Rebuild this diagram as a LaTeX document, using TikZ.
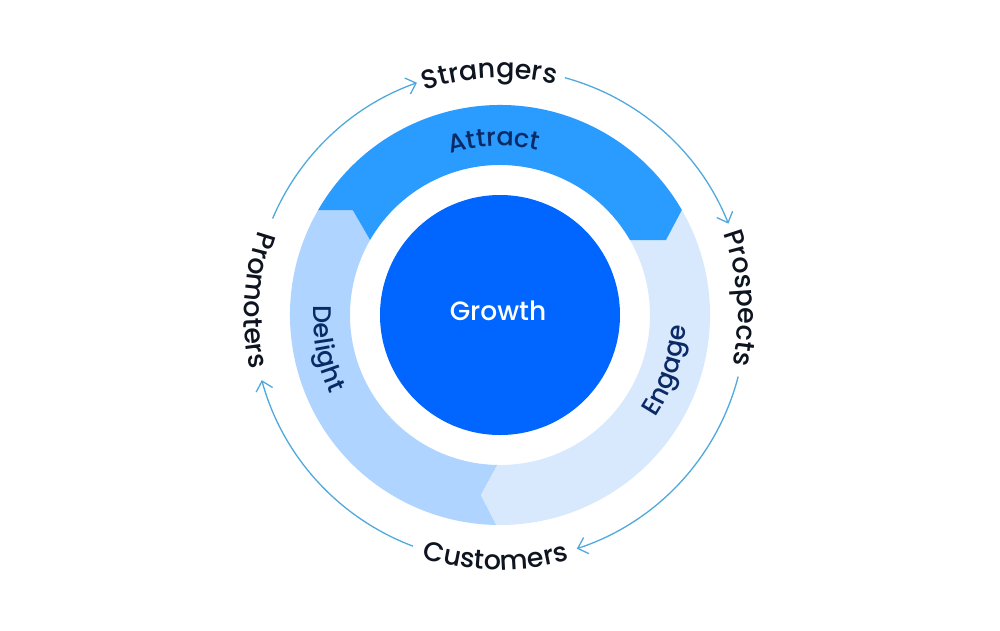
\documentclass[tikz,border=0pt]{standalone}
\usepackage{fontspec}
\setmainfont{Poppins}
\newfontfamily\boldishfont{Poppins Medium}
\usetikzlibrary{arrows.meta,decorations.text}
\definecolor{attractc}{HTML}{2A9BFF}
\definecolor{delightc}{HTML}{AED4FF}
\definecolor{engagec}{HTML}{D9E9FD}
\definecolor{discc}{HTML}{0066FF}
\definecolor{arrowc}{HTML}{4FA9DC}
\definecolor{navyc}{HTML}{0A2A66}
\definecolor{inkc}{HTML}{0E1420}
\newcommand{\outerfont}{\boldishfont\fontsize{27}{27}\selectfont}
\newcommand{\innerfont}{\boldishfont\fontsize{25.5}{26}\selectfont}
\newcommand{\centerfont}{\boldishfont\fontsize{26.5}{27}\selectfont}
\tikzset{
  x=1pt,y=1pt,
  flowarrow/.style={draw=arrowc,line width=1.3pt,-{Straight Barb[length=9pt,width=17pt,line width=1.3pt]}},
  outerlabel/.style={decorate,decoration={text along path,text align=center,text color=inkc,text={|\outerfont|#1}}},
  innerlabel/.style={decorate,decoration={text along path,text align=center,text color=navyc,text={|\innerfont|#1}}},
  discnode/.style={circle,fill=discc,minimum size=240pt,inner sep=0pt},
  disctext/.style={text=white,font=\centerfont,inner sep=0pt}
}
\begin{document}
\begin{tikzpicture}
\useasboundingbox (-500,-315) rectangle (500,315);
% band segments
\fill[delightc] (150:210) arc[start angle=150,end angle=269,radius=210] -- (-19,-180) -- (269:150) arc[start angle=269,end angle=150,radius=150] -- (-147.3,105) -- cycle;
\fill[engagec] (30:210) arc[start angle=30,end angle=-91,radius=210] -- (-19,-180) -- (-91:150) arc[start angle=-91,end angle=30,radius=150] -- (166,75) -- cycle;
\fill[attractc] (150:210) arc[start angle=150,end angle=30,radius=210] -- (166,75) -- (30:150) arc[start angle=30,end angle=150,radius=150] -- (-147.3,105) -- cycle;
% centre
\node[discnode] (growth) at (0,0) {};
\node[disctext] (growthtext) at (-2,4) {Growth};
% band labels
\path[innerlabel={Attract}] (127:169) arc[start angle=127,end angle=57,radius=169];
\path[innerlabel={Delight}] (163:187) arc[start angle=163,end angle=219,radius=187];
\path[innerlabel={Engage}] (-47:186) arc[start angle=-47,end angle=10,radius=186];
% outer labels
\path[outerlabel={Strangers}] (125:237) arc[start angle=125,end angle=60,radius=237];
\path[outerlabel={Prospects}] (37:238) arc[start angle=37,end angle=-29,radius=238];
\path[outerlabel={Customers}] (-126:255) arc[start angle=-126,end angle=-56,radius=255];
\path[outerlabel={Promoters}] (147:256) arc[start angle=147,end angle=206,radius=256];
% connector ends
\coordinate (promotersEnd) at (157:247);
\coordinate (strangersEnd) at (74.7:246);
\coordinate (prospectsEnd) at (-14.5:246);
\coordinate (customersEnd) at (-110.6:247);
\draw[flowarrow] (promotersEnd) arc[start angle=157,end angle=109.5,radius=246];
\draw[flowarrow] (strangersEnd) arc[start angle=74.7,end angle=21.8,radius=246];
\draw[flowarrow] (prospectsEnd) arc[start angle=-14.5,end angle=-71.8,radius=246];
\draw[flowarrow] (customersEnd) arc[start angle=-110.6,end angle=-164.7,radius=247];
\end{tikzpicture}
\end{document}
